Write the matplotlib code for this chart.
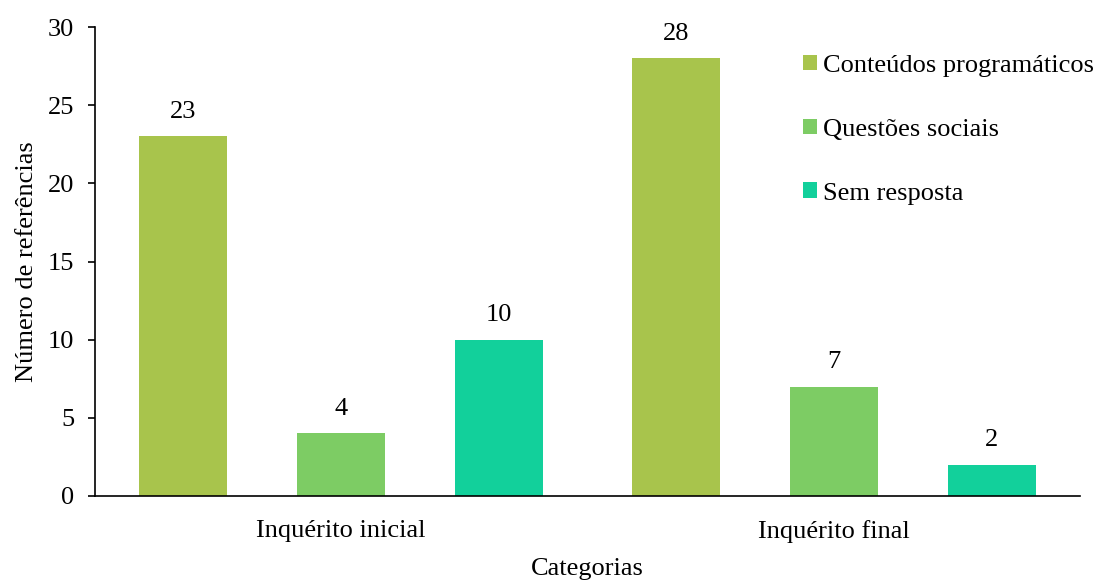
import matplotlib
matplotlib.use("Agg")
import matplotlib.pyplot as plt
import numpy as np

categories = ["Inquérito inicial", "Inquérito final"]
series_names = ["Conteúdos programáticos", "Questões sociais", "Sem resposta"]
conteudos = [23, 28]
questoes = [4, 7]
sem_resposta = [10, 2]
colors = ["#a8c44c", "#7dcc64", "#12d09b"]

plt.rcParams['font.family'] = ['Liberation Serif', 'DejaVu Serif']
FS = 19

fig = plt.figure(figsize=(10.95, 5.81), dpi=100)
ax = fig.add_axes([95/1095, 1-496/581, 985/1095, (496-27)/581])

x = np.arange(len(categories))
w = 0.179
off = 0.321
for i, (vals, name) in enumerate(zip([conteudos, questoes, sem_resposta], series_names)):
    bars = ax.bar(x + (i-1)*off, vals, w, color=colors[i], label=name)
    for b, v in zip(bars, vals):
        ax.text(b.get_x()+b.get_width()/2, v + 0.88, str(v), ha='center', va='bottom', fontsize=FS)

ax.set_xlim(-0.5, 1.5)
ax.set_ylim(0, 30)
ax.set_yticks([0, 5, 10, 15, 20, 25, 30])
ax.set_xticks(x)
ax.set_xticklabels(categories)
ax.tick_params(axis='x', length=0, labelsize=FS, pad=17)
ax.tick_params(axis='y', direction='out', length=5, labelsize=FS, pad=10, width=1.2)
for s in ['top', 'right']:
    ax.spines[s].set_visible(False)
ax.spines['left'].set_linewidth(1.2)
ax.spines['bottom'].set_linewidth(1.2)
ax.set_xlabel("Categorias", fontsize=FS, labelpad=11)
ax.set_ylabel("Número de referências", fontsize=FS, labelpad=7)

leg = ax.legend(loc='upper left', bbox_to_anchor=((803-95)/985, 1 - 28/469), frameon=False, fontsize=FS,
                handlelength=0.52, handleheight=0.52, handletextpad=0.22, labelspacing=1.58,
                borderpad=0, borderaxespad=0)

fig.savefig("out.png", dpi=100)
